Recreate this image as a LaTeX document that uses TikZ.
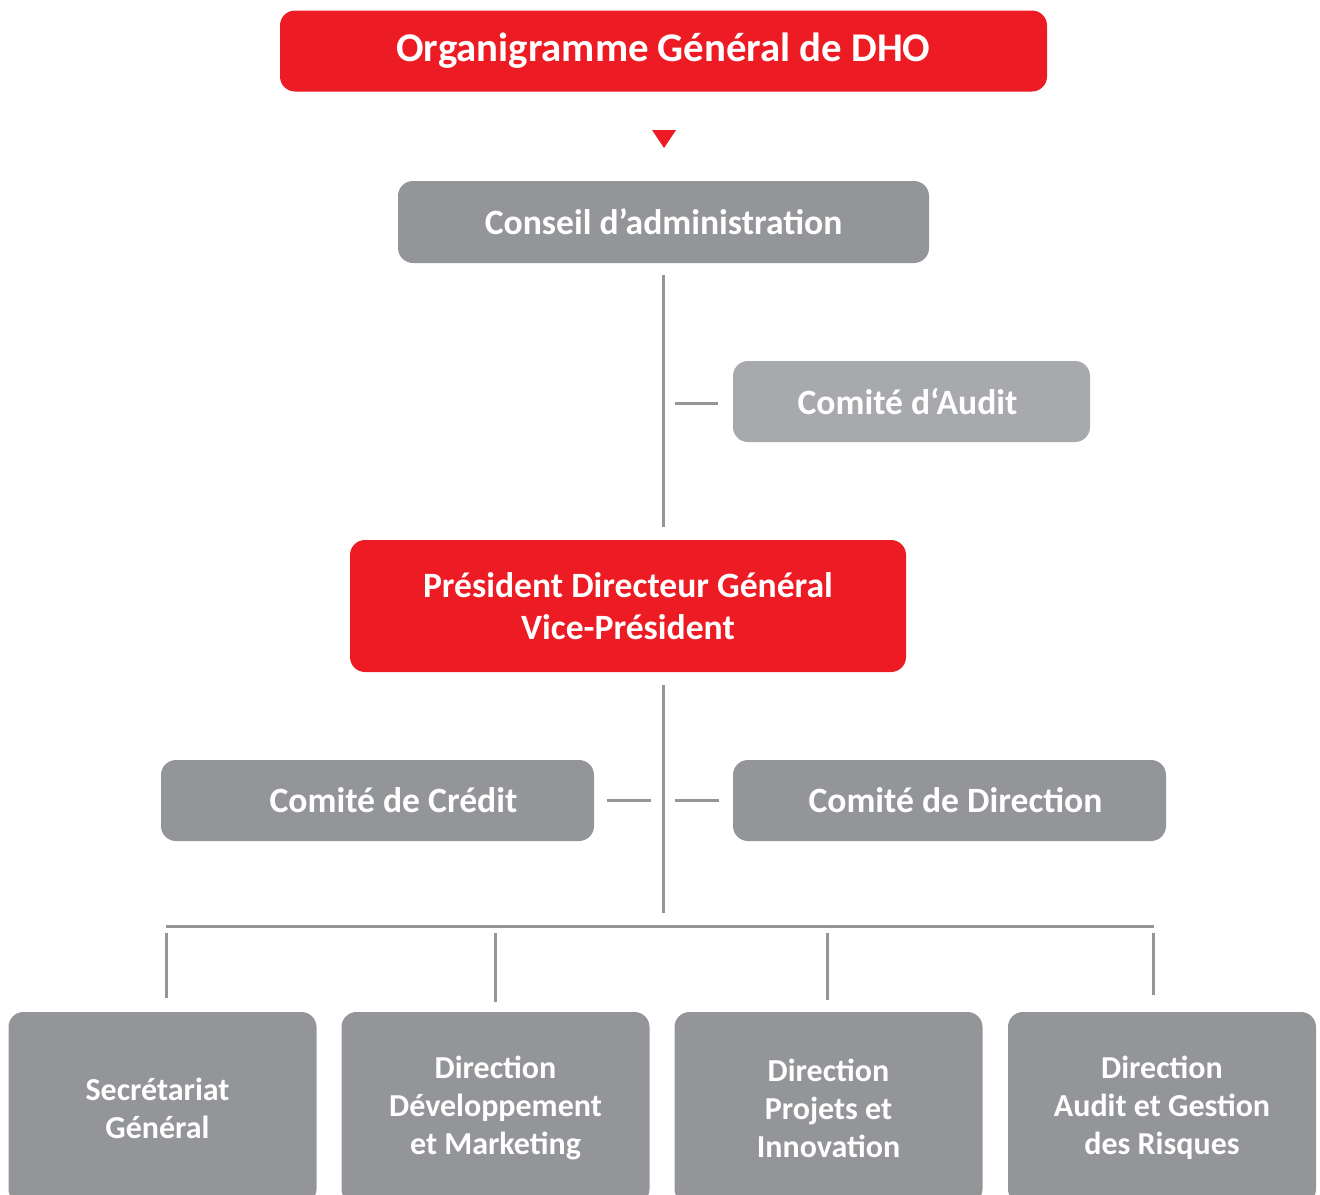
\documentclass[tikz,border=0pt]{standalone}
\usepackage{fontspec}
\setmainfont{Carlito}
\usepackage{tikz}
\usetikzlibrary{positioning}
\definecolor{dhored}{HTML}{ED1C24}
\definecolor{dhogray}{HTML}{939598}
\definecolor{dholight}{HTML}{A7A9AC}

\begin{document}
\begin{tikzpicture}[x=0.5pt, y=-0.5pt,
  box/.style={fill=dhogray, rounded corners=7.5pt, text=white, align=center, inner sep=0pt,
    font=\bfseries\fontsize{17.8}{21}\selectfont},
  redbox/.style={box, fill=dhored},
  unit/.style={box, minimum width=154pt, minimum height=96pt,
    font=\bfseries\fontsize{16}{19}\selectfont},
  link/.style={draw=dhogray, line width=1.5pt}]
\useasboundingbox (0,0) rectangle (1320,1194);
\clip (0,0) rectangle (1320,1194);

\node[redbox, minimum width=383.5pt, minimum height=40.5pt, font=\bfseries\fontsize{20.4}{24}\selectfont] (title) at (663.5,51) {Organigramme Général de DHO};
\coordinate (tip) at (664,148);
\fill[dhored] ([xshift=-6pt, yshift=9pt]tip) -- ([xshift=6pt, yshift=9pt]tip) -- (tip) -- cycle;

\node[box, minimum width=265.5pt, minimum height=41pt] (conseil) at (663.5,222) {Conseil d’administration};
\node[box, fill=dholight, minimum width=178.5pt, minimum height=40.5pt] (audit) at (911.5,401.5) {\hspace*{-4pt}Comité d‘Audit};
\node[redbox, minimum width=278pt, minimum height=66pt] (pdg) at (628,606) {Président Directeur Général\\Vice-Président};
\node[box, minimum width=216.5pt, minimum height=40.5pt] (credit) at (377.5,800.5) {\hspace*{16pt}Comité de Crédit};
\node[box, minimum width=216.5pt, minimum height=40.5pt] (comdir) at (949.5,800.5) {\hspace*{6pt}Comité de Direction};

\draw[link] ([yshift=-6pt]conseil.south) -- ([yshift=6.5pt]conseil.south |- pdg.north);
\draw[link] ([xshift=-7.5pt, yshift=-0.75pt]audit.west) -- ([xshift=-29pt, yshift=-0.75pt]audit.west);
\draw[link] ([xshift=6.5pt]credit.east) -- ([xshift=28.5pt]credit.east);
\draw[link] ([xshift=-7pt]comdir.west) -- ([xshift=-29pt]comdir.west);

% directions
\node[unit] (sg) at (162.5,1108) {\hspace*{-5pt}Secrétariat\\\hspace*{-5pt}Général};
\node[unit] (dm) at (495.5,1108) {Direction\\Développement\\et Marketing};
\node[unit] (pi) at (828.5,1108) {Direction\\Projets et\\Innovation};
\node[unit] (ar) at (1162,1108) {Direction\\Audit et Gestion\\des Risques};

\coordinate (busL) at (166,926);
\coordinate (busR) at (1154,926);
\draw[link] ([yshift=-6.5pt]pdg.south -| conseil.south) -- ([yshift=6.5pt]conseil.south |- busL);
\draw[link] (busL) -- (busR);
\coordinate (d1) at (166,926);
\coordinate (d2) at (495,926);
\coordinate (d3) at (827,926);
\coordinate (d4) at (1153,926);
\draw[link] ([yshift=-3.5pt]d1) -- ([yshift=7pt]d1 |- sg.north);
\draw[link] ([yshift=-3.5pt]d2) -- ([yshift=5pt]d2 |- dm.north);
\draw[link] ([yshift=-3.5pt]d3) -- ([yshift=6pt]d3 |- pi.north);
\draw[link] ([yshift=-3.5pt]d4) -- ([yshift=8.5pt]d4 |- ar.north);
\end{tikzpicture}
\end{document}
